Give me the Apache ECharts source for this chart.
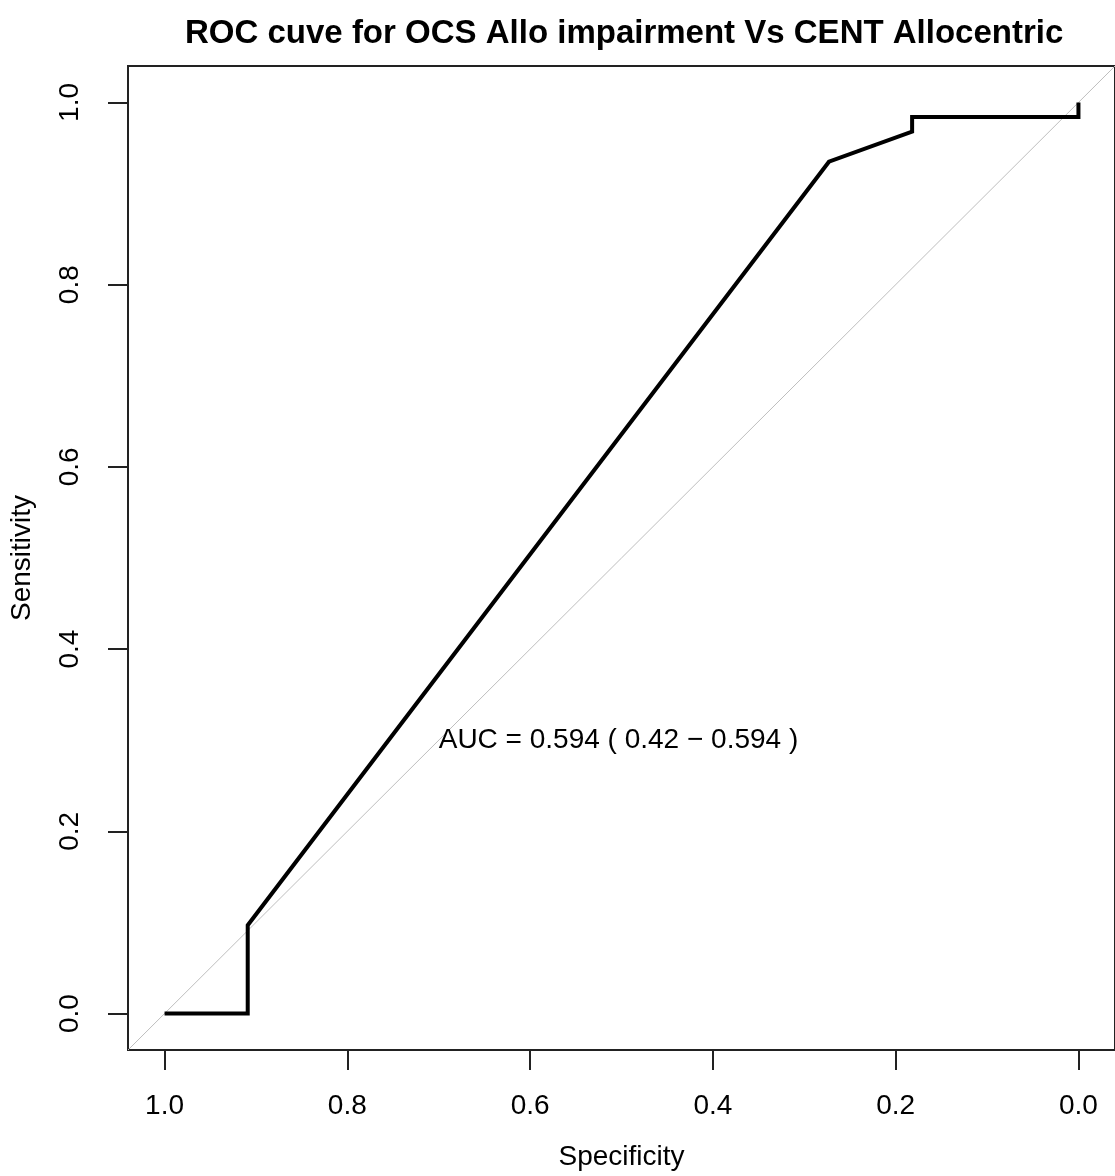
<!DOCTYPE html>
<html>
<head>
<meta charset="utf-8">
<script src="https://cdn.jsdelivr.net/npm/echarts@6/dist/echarts.min.js"></script>
<style>
html,body{margin:0;padding:0;background:#fff;}
#chart{width:1115px;height:1176px;}
</style>
</head>
<body>
<div id="chart"></div>
<script>
// ROC curve points: [specificity, sensitivity]
const rocSpecificity = [1.0, 0.909, 0.909, 0.273, 0.182, 0.182, 0.0, 0.0];
const rocSensitivity = [0.0, 0.0, 0.097, 0.935, 0.968, 0.984, 0.984, 1.0];
// identity (chance) line across the plot region
const diagSpecificity = [1.04, -0.04];
const diagSensitivity = [-0.04, 1.04];
const tickValues = [0, 0.2, 0.4, 0.6, 0.8, 1.0];
const aucText = 'AUC = 0.594 ( 0.42 \u2212 0.594 )';
const aucPos = [0.70, 0.30];
const titleText = 'ROC cuve for OCS Allo impairment Vs CENT Allocentric';

const FONT = "'Liberation Sans', Arial, sans-serif";
const rocData = rocSpecificity.map((s, i) => [s, rocSensitivity[i]]);
const diagData = diagSpecificity.map((s, i) => [s, diagSensitivity[i]]);

const chart = echarts.init(document.getElementById('chart'), null, {renderer: 'canvas'});
const axisCommon = {
  type: 'value',
  min: -0.04,
  max: 1.04,
  splitLine: {show: false},
  axisLine: {show: false, onZero: false},
  axisTick: {show: true, inside: false, length: 20, customValues: tickValues,
             lineStyle: {color: '#222', width: 2}},
  axisLabel: {show: true, customValues: tickValues, color: '#000',
              fontFamily: FONT, fontSize: 28,
              formatter: v => v.toFixed(1)},
  nameLocation: 'middle',
  nameTextStyle: {fontFamily: FONT, fontSize: 28, color: '#000'}
};
chart.setOption({
  animation: false,
  backgroundColor: '#fff',
  title: {
    text: titleText,
    left: 180, top: 12,
    textStyle: {fontFamily: FONT, fontSize: 33, fontWeight: 'bold', color: '#000'}
  },
  grid: {
    show: true, left: 128, top: 66, width: 990, height: 988,
    borderColor: '#222', borderWidth: 2, backgroundColor: 'transparent'
  },
  xAxis: Object.assign({}, axisCommon, {
    inverse: true,
    position: 'bottom',
    name: 'Specificity',
    nameGap: 93,
    axisLabel: Object.assign({}, axisCommon.axisLabel, {margin: 42})
  }),
  yAxis: Object.assign({}, axisCommon, {
    position: 'left',
    name: 'Sensitivity',
    nameGap: 92,
    nameRotate: 90,
    axisLabel: Object.assign({}, axisCommon.axisLabel, {margin: 44, rotate: 90})
  }),
  series: [
    {
      type: 'line', data: diagData, showSymbol: false, symbol: 'none',
      lineStyle: {color: '#bebebe', width: 1}, silent: true, z: 1
    },
    {
      type: 'line', data: rocData, showSymbol: false, symbol: 'none',
      lineStyle: {color: '#000', width: 4, join: 'miter'}, z: 3
    },
    {
      type: 'scatter', data: [aucPos], symbolSize: 0,
      itemStyle: {color: '#000', opacity: 1},
      label: {show: true, position: 'right', distance: 0, formatter: aucText,
              fontFamily: FONT, fontSize: 28, color: '#000', opacity: 1},
      emphasis: {disabled: true},
      z: 4
    }
  ]
});
</script>
</body>
</html>
